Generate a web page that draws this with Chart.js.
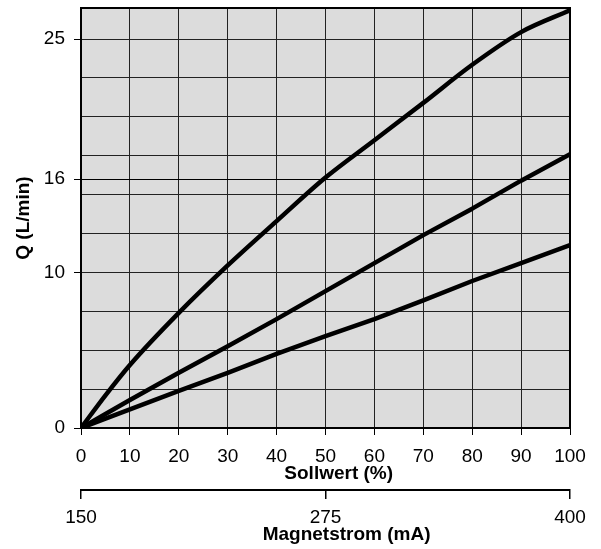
<!DOCTYPE html>
<html><head><meta charset="utf-8">
<script src="https://cdn.jsdelivr.net/npm/chart.js@4/dist/chart.umd.min.js"></script>
<style>html,body{margin:0;padding:0;background:#fff}</style>
</head><body>
<canvas id="c" width="601" height="549"></canvas>
<script>
// Data
const sollwert = [0, 5, 10, 20, 30, 40, 50, 60, 70, 80, 90, 100];
const qHigh = [0, 2.1, 4.05, 7.4, 10.45, 13.3, 16.1, 18.5, 20.9, 23.35, 25.45, 26.85];
const qMid  = [0, 0.9, 1.8, 3.55, 5.25, 7.0, 8.8, 10.6, 12.4, 14.1, 15.9, 17.6];
const qLow  = [0, 0.6, 1.2, 2.38, 3.55, 4.77, 5.9, 7.0, 8.2, 9.45, 10.6, 11.75];
const yGridValues = [0, 2.5, 5, 7.5, 10, 12.5, 15, 17.5, 20, 22.5, 25];
const yTickLabels = [0, 10, 16, 25];
const xTickValues = [0, 10, 20, 30, 40, 50, 60, 70, 80, 90, 100];
const magnetTicks = [150, 275, 400];

const FONT = "'Liberation Sans', Arial, sans-serif";
const pts = (ys) => sollwert.map((x, i) => ({x: x, y: ys[i]}));

const frame = {
  id: 'frame',
  beforeDraw(chart) {
    const a = chart.chartArea, c = chart.ctx;
    c.save();
    c.fillStyle = '#dcdcdc';
    c.fillRect(a.left, a.top, a.right - a.left, a.bottom - a.top);
    c.restore();
  },
  beforeDatasetsDraw(chart) {
    const a = chart.chartArea, c = chart.ctx;
    c.save();
    c.strokeStyle = '#000';
    c.lineWidth = 2;
    c.beginPath();
    c.moveTo(a.left, a.top); c.lineTo(a.right, a.top); c.lineTo(a.right, a.bottom);
    c.stroke();
    c.restore();
  }
};

const ds = (label, ys, smooth) => ({
  label: label, data: pts(ys), borderColor: '#000', borderWidth: 4.5,
  pointRadius: 0, tension: smooth ? 0.3 : 0, cubicInterpolationMode: smooth ? 'monotone' : 'default',
  fill: false, borderJoinStyle: 'round', xAxisID: 'x', yAxisID: 'y'
});

new Chart(document.getElementById('c'), {
  type: 'line',
  data: { datasets: [ds('A', qHigh, true), ds('B', qMid, false), ds('C', qLow, false)] },
  options: {
    responsive: false, animation: false,
    layout: { padding: { top: 8, right: 31, left: 0, bottom: 0 } },
    plugins: { legend: { display: false }, tooltip: { enabled: false } },
    scales: {
      x: {
        type: 'linear', position: 'bottom', min: 0, max: 100, weight: 0,
        afterBuildTicks: (s) => { s.ticks = xTickValues.map(v => ({value: v})); },
        afterFit: (s) => { s.height = 62; },
        grid: { color: '#222', lineWidth: 1, tickLength: 7, tickColor: '#000' },
        border: { display: true, color: '#000', width: 2 },
        ticks: { autoSkip: false, maxRotation: 0, padding: 10, color: '#000', font: { family: FONT, size: 19 } },
        title: { display: true, text: '     Sollwert (%)', color: '#000',
                 font: { family: FONT, size: 19, weight: 'bold' }, padding: { top: 0, bottom: 5 } }
      },
      x2: {
        type: 'linear', position: 'bottom', min: 150, max: 400, weight: 1,
        afterBuildTicks: (s) => { s.ticks = magnetTicks.map(v => ({value: v})); },
        afterFit: (s) => { s.height = 59; },
        grid: { drawOnChartArea: false, color: '#000', lineWidth: 1.5, tickLength: 9 },
        border: { display: true, color: '#000', width: 2 },
        ticks: { autoSkip: false, maxRotation: 0, padding: 7, color: '#000', font: { family: FONT, size: 19 } },
        title: { display: true, text: '        Magnetstrom (mA)', color: '#000',
                 font: { family: FONT, size: 19, weight: 'bold' }, padding: { top: 0, bottom: 3 } }
      },
      y: {
        type: 'linear', position: 'left', min: 0, max: 27,
        afterBuildTicks: (s) => {
          const vals = yGridValues.concat(yTickLabels.filter(v => yGridValues.indexOf(v) < 0)).sort((a, b) => a - b);
          s.ticks = vals.map(v => ({value: v}));
        },
        afterFit: (s) => { s.width = 81; s.paddingTop = 0; s.paddingBottom = 0; },
        grid: {
          lineWidth: 1, tickLength: 7,
          color: (ctx) => ctx.tick && ctx.tick.value === 16 ? '#000' : '#222',
          tickColor: (ctx) => ctx.tick && yTickLabels.indexOf(ctx.tick.value) >= 0 ? '#000' : 'rgba(0,0,0,0)'
        },
        border: { display: true, color: '#000', width: 2 },
        ticks: {
          autoSkip: false, padding: 9, color: '#000', font: { family: FONT, size: 19 },
          callback: (v) => yTickLabels.indexOf(v) >= 0 ? String(v) : ''
        },
        title: { display: true, text: 'Q (L/min)', color: '#000',
                 font: { family: FONT, size: 19, weight: 'bold' }, padding: { top: 12, bottom: 0 } }
      }
    }
  },
  plugins: [frame]
});
</script>
</body></html>
